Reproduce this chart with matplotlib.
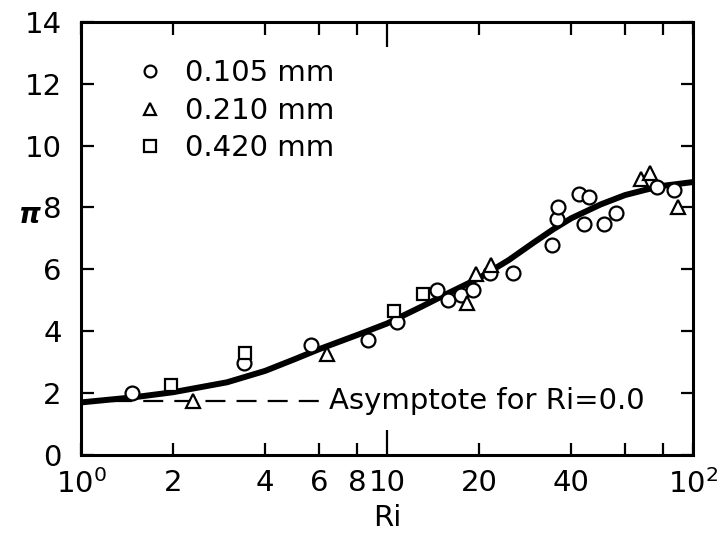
import matplotlib
matplotlib.use('Agg')
import matplotlib.pyplot as plt
from matplotlib.lines import Line2D

plt.rcParams['font.family'] = ['DejaVu Sans']
plt.rcParams['mathtext.default'] = 'regular'

# data
ri_circle = [1.47, 3.42, 5.66, 8.65, 10.8, 14.6, 15.8, 17.4, 19.05, 21.7, 25.8,
             34.5, 35.9, 36.2, 42.4, 45.6, 44.0, 51.1, 56.0, 76.3, 86.7]
pi_circle = [2.00, 2.97, 3.56, 3.72, 4.30, 5.33, 5.01, 5.17, 5.33, 5.88, 5.88,
             6.79, 7.63, 8.02, 8.44, 8.34, 7.47, 7.47, 7.82, 8.66, 8.57]

ri_tri = [2.33, 6.38, 18.2, 19.6, 21.8, 67.6, 72.3, 89.3]
pi_tri = [1.75, 3.27, 4.91, 5.85, 6.14, 8.92, 9.12, 8.02]

ri_sq = [1.97, 3.44, 10.5, 13.1]
pi_sq = [2.26, 3.30, 4.66, 5.21]

ri_curve = [1.0, 1.5, 2.0, 3.0, 4.0, 5.0, 6.0, 8.0, 10.0, 13.0, 16.0, 20.0,
            25.0, 30.0, 35.0, 40.0, 50.0, 60.0, 70.0, 80.0, 100.0]
pi_curve = [1.70, 1.87, 2.03, 2.35, 2.72, 3.10, 3.42, 3.88, 4.25, 4.80, 5.25,
            5.72, 6.30, 6.85, 7.30, 7.65, 8.10, 8.40, 8.57, 8.70, 8.82]

ri_asym = [1.0, 6.3]
pi_asym = [1.75, 1.75]

labels = ['0.105 mm', '0.210 mm', '0.420 mm']
xticks = [1, 2, 4, 6, 8, 10, 20, 40, 100]
xticklabels = ['$10^0$', '2', '4', '6', '8', '10', '20', '40', '$10^2$']

fig = plt.figure(figsize=(7.26, 5.43), dpi=100)
ax = fig.add_axes([0.1116, 0.162, 0.843, 0.798])

ax.plot(ri_curve, pi_curve, color='black', lw=4.3, solid_capstyle='butt', zorder=2)
ax.plot(ri_asym, pi_asym, color='black', lw=1.6, dashes=(9, 5), zorder=2)
ax.text(6.45, 1.75, 'Asymptote for Ri=0.0', fontsize=21, va='center', ha='left')

mk = dict(mfc='white', mec='black', mew=1.6, ms=10, ls='none', zorder=3)
ax.plot(ri_circle, pi_circle, marker='o', **mk)
ax.plot(ri_tri, pi_tri, marker='^', **mk)
ax.plot(ri_sq, pi_sq, marker='s', **dict(mk, ms=9))

handles = [Line2D([], [], marker=m, mfc='white', mec='black', mew=1.6, ms=8.5, ls='none')
           for m in ['o', '^', 's']]
ax.legend(handles, labels, loc='upper left', bbox_to_anchor=(0.06, 0.96),
          frameon=False, fontsize=21, handlelength=0.8, handletextpad=0.8,
          labelspacing=0.32, borderpad=0.2)

ax.set_xscale('log')
ax.set_xlim(1, 100)
ax.set_ylim(0, 14)
ax.set_xticks(xticks)
ax.set_xticklabels(xticklabels)
ax.set_xticks([60, 80], minor=True)
ax.set_yticks(range(0, 15, 2))

ax.tick_params(axis='both', which='both', direction='in', top=True, right=True,
               labelsize=21, width=1.6, length=9, pad=10)
ax.tick_params(axis='y', pad=14)
ax.tick_params(axis='x', which='minor', labelbottom=False)
# long tick at Ri = 10
for t in ax.xaxis.get_major_ticks():
    if abs(t.get_loc() - 10) < 1e-6:
        t.tick1line.set_markersize(18)
        t.tick2line.set_markersize(18)

for s in ax.spines.values():
    s.set_linewidth(2.2)

ax.set_xlabel('Ri', fontsize=21, labelpad=4)
ax.set_ylabel('π', fontsize=20, rotation=0, style='italic', fontweight='bold',
              va='center', ha='center')
ax.yaxis.set_label_coords(-0.083, 0.555)

fig.savefig('out.png', dpi=100)
